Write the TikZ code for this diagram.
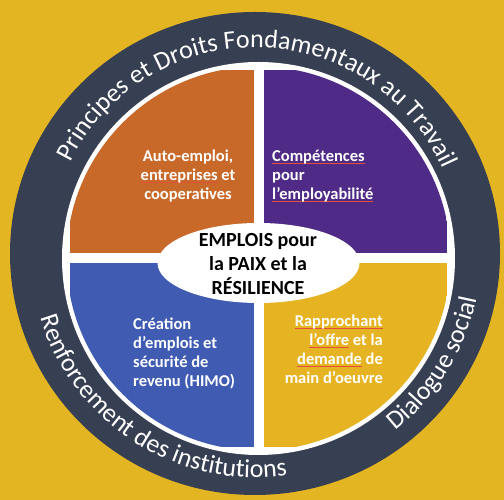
\documentclass[tikz,border=0pt]{standalone}
\usepackage{fontspec}
\setmainfont{Carlito}
\usepackage{xcolor,tikz}
\usetikzlibrary{decorations.text,shapes.geometric}

\definecolor{bggold}{HTML}{E4B523}
\definecolor{ringnavy}{HTML}{373F52}
\definecolor{qorange}{HTML}{C8692A}
\definecolor{qpurple}{HTML}{4F2A86}
\definecolor{qblue}{HTML}{405CB2}
\definecolor{qgold}{HTML}{E6B422}
\definecolor{squig}{HTML}{E0503A}

% spell-check style underline under a word
\newsavebox{\wordbox}
\newcommand{\squigword}[1]{\sbox\wordbox{#1}\rlap{\textcolor{squig}{\rule[-2.5pt]{\wd\wordbox}{0.7pt}}}\usebox\wordbox}
\newcommand{\ringfont}{\fontsize{26}{26}\selectfont}

\tikzset{
  quadtext/.style={text=white, font=\bfseries\fontsize{16.5}{19}\selectfont, inner sep=0pt},
  ringtext/.style={decorate, decoration={text along path, text align=center, text={#1}}}
}

\begin{document}
\begin{tikzpicture}[x=1pt,y=1pt]
\fill[bggold] (0,0) rectangle (504,500);
\useasboundingbox (0,0) rectangle (504,500);
\coordinate (ringc) at (255,246.5);
\coordinate (innerc) at (258.5,241.5);
\fill[ringnavy] (ringc) ellipse [x radius=245, y radius=241.5];
\fill[white] (innerc) circle [radius=196.5];
% the four quadrants
\begin{scope}
\clip (innerc) circle [radius=192];
\fill[qorange] (70,246.5) rectangle (253.5,430);
\fill[qpurple] (263.5,246.5) rectangle (447,430);
\fill[qblue] (70,236.5) rectangle (253.5,53);
\fill[qgold] (263.5,236.5) rectangle (447,53);
\end{scope}
\node[fill=white, ellipse, minimum width=202, minimum height=80, inner sep=0pt] (emplois) at (258.5,237) {};
\node[font=\bfseries\fontsize{20}{24}\selectfont, align=center, inner sep=0pt] (emploistext) at (258,236)
  {EMPLOIS pour\\la PAIX et la\\RÉSILIENCE};
\node[quadtext, align=center] (autoemploi) at (188,324)
  {Auto-emploi,\\\squigword{entreprises} et\\cooperatives};
\node[quadtext, align=left, anchor=west] (competences) at (272,324)
  {\squigword{Compétences}\\pour\\\squigword{l’employabilité}};
\node[quadtext, align=left, anchor=west] (creation) at (133,146.5)
  {Création\\d'emplois et\\sécurité de\\revenu (HIMO)};
\node[quadtext, align=right, anchor=east] (rapprochant) at (383,151)
  {\squigword{Rapprochant}\\\squigword{l’offre} et la\\\squigword{demande} de\\main d’oeuvre};
% texts along the ring
\path[ringtext={|\ringfont\color{white}|Principes et Droits Fondamentaux au Travail}]
  ([shift={(174:206)}]ringc) arc [start angle=174, end angle=4, radius=206];
\path[ringtext={|\ringfont\color{white}|Renforcement des institutions}]
  ([shift={(185:224)}]ringc) arc [start angle=185, end angle=290, radius=224];
\path[ringtext={|\ringfont\color{white}|Dialogue social}]
  ([shift={(300:226)}]ringc) arc [start angle=300, end angle=357, radius=226];
\end{tikzpicture}
\end{document}
